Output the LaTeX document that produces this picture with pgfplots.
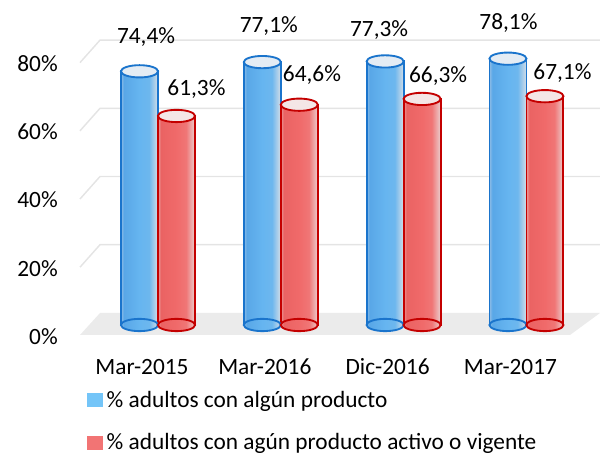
\documentclass[border=0pt]{standalone}
\usepackage{fontspec}
\setmainfont{Carlito}
\usepackage{pgfplots}
\usepackage{pgfplotstable}
\pgfplotsset{compat=1.18}

\definecolor{edgeblue}{HTML}{1A74CC}
\definecolor{edgered}{HTML}{C40000}
\definecolor{bA}{HTML}{8DBCE6}
\definecolor{bB}{HTML}{59A7E7}
\definecolor{bC}{HTML}{66B5F0}
\definecolor{bD}{HTML}{6DB7EE}
\definecolor{bE}{HTML}{D5DEE7}
\definecolor{rA}{HTML}{EB9A9A}
\definecolor{rB}{HTML}{EA6363}
\definecolor{rC}{HTML}{F06A6A}
\definecolor{rD}{HTML}{F07676}
\definecolor{rE}{HTML}{EBCFCF}
\definecolor{topblue}{HTML}{E4ECF4}
\definecolor{topred}{HTML}{F4E6E6}
\definecolor{floorgray}{HTML}{EBEBEB}
\definecolor{gridgray}{HTML}{E4E4E4}
\definecolor{legblue}{HTML}{74C5F8}
\definecolor{legred}{HTML}{F27474}

\pgfdeclarehorizontalshading{cylblue}{100bp}{color(0bp)=(bA); color(25bp)=(bA); color(29bp)=(bB); color(50bp)=(bC); color(63bp)=(bD); color(75bp)=(bE); color(100bp)=(bE)}
\pgfdeclarehorizontalshading{cylred}{100bp}{color(0bp)=(rA); color(25bp)=(rA); color(29bp)=(rB); color(50bp)=(rC); color(63bp)=(rD); color(75bp)=(rE); color(100bp)=(rE)}

\pgfdeclareplotmark{topB}{\filldraw[fill=topblue,draw=edgeblue,line width=1.4pt] (0pt,0pt) ellipse (13.9pt and 4.6pt);}
\pgfdeclareplotmark{baseB}{\shade[shading=cylblue,draw=edgeblue,line width=1.4pt] (0pt,0pt) ellipse (13.9pt and 4.6pt);}
\pgfdeclareplotmark{topR}{\filldraw[fill=topred,draw=edgered,line width=1.4pt] (0pt,0pt) ellipse (13.9pt and 4.6pt);}
\pgfdeclareplotmark{baseR}{\shade[shading=cylred,draw=edgered,line width=1.4pt] (0pt,0pt) ellipse (13.9pt and 4.6pt);}

% dx, dy: label offset from the top of its cylinder, in pixels of the reference
\pgfplotstableread{
x y dx dy
0 74.4 6.5 34
1 77.1 6.5 35.7
2 77.3 -6 31
3 78.1 0.5 36
}\bluedata
\pgfplotstableread{
x y dx dy
0 61.3 20 26.7
1 64.6 12.7 30
2 66.3 16 23
3 67.1 17.5 23
}\reddata

\newcommand{\fs}{\fontsize{17.5}{21}\selectfont}

\pgfplotsset{
  cylbar/.style n args={3}{ybar, bar width=0.301, bar shift=#1, shade, shading=#2,
    draw=#3, line width=1.4pt, forget plot},
  vallabel/.style={only marks, mark=none, forget plot,
    point meta=explicit,
    nodes near coords={\pgfmathprintnumber[fixed,fixed zerofill,precision=1,use comma]{\pgfplotspointmeta}\%},
    every node near coord/.append style={font=\fs, text=black, anchor=center, inner sep=0pt}},
}

\begin{document}
\begin{tikzpicture}[font=\fs]
\useasboundingbox (0,0) rectangle (450pt,339.75pt);
\begin{axis}[
  at={(60pt,85.77pt)}, anchor=south west,
  scale only axis, width=390pt, height=214.83pt,
  xmin=-0.635, xmax=3.599, ymin=-4, ymax=80,
  clip=false,
  axis line style={draw=none},
  tick style={draw=none},
  major tick length=0pt,
  xtick={0,1,2,3}, xticklabels={Mar-2015,Mar-2016,Dic-2016,Mar-2017},
  ytick={0,20,40,60,80}, yticklabels={0\%,20\%,40\%,60\%,80\%},
  tick label style={font=\fs},
  xticklabel style={anchor=center, inner sep=0pt, xshift=-12pt, yshift=-21.3pt},
  yticklabel style={anchor=east, inner sep=0pt, xshift=-16.5pt, yshift=-8.6pt},
  /pgf/number format/assume math mode=true,
  legend cell align=left,
  legend style={at={(0.0128,-0.1815)}, anchor=north west, draw=none, fill=none,
    inner sep=0pt, font=\fs, /tikz/row sep=18.5pt, /tikz/column sep=3.2pt,
    nodes={inner sep=0pt, anchor=west}},
]
% floor
\addplot[fill=floorgray, draw=none, forget plot] coordinates {(-0.635,-2.93) (3.355,-2.93) (3.599,3.52) (-0.472,3.52)};
% gridlines
\addplot[gridgray, line width=1.1pt, forget plot] coordinates {(-0.635,16.95) (-0.472,23.55) (3.599,23.55)};
\addplot[gridgray, line width=1.1pt, forget plot] coordinates {(-0.635,36.95) (-0.472,43.55) (3.599,43.55)};
\addplot[gridgray, line width=1.1pt, forget plot] coordinates {(-0.635,56.95) (-0.472,63.55) (3.599,63.55)};
\addplot[gridgray, line width=1.1pt, forget plot] coordinates {(-0.635,76.95) (-0.472,83.55) (3.599,83.55)};

% blue cylinders (one bar per plot so that each is shaded on its own)
\pgfplotsinvokeforeach{0,1,2,3}{
  \addplot[cylbar={-0.1505}{cylblue}{edgeblue}, restrict x to domain=#1:#1]
    table[x=x, y=y] {\bluedata};
}
\addplot[only marks, mark=baseB, forget plot] table[x expr=\thisrow{x}-0.1505, y expr=0] {\bluedata};
\addplot[only marks, mark=topB, forget plot] table[x expr=\thisrow{x}-0.1505, y=y] {\bluedata};

% red cylinders
\pgfplotsinvokeforeach{0,1,2,3}{
  \addplot[cylbar={0.1505}{cylred}{edgered}, restrict x to domain=#1:#1]
    table[x=x, y=y] {\reddata};
}
\addplot[only marks, mark=baseR, forget plot] table[x expr=\thisrow{x}+0.1505, y expr=0] {\reddata};
\addplot[only marks, mark=topR, forget plot] table[x expr=\thisrow{x}+0.1505, y=y] {\reddata};

% value labels
\addplot[vallabel] table[x expr=\thisrow{x}-0.1505+\thisrow{dx}/122.8,
  y expr=\thisrow{y}+\thisrow{dy}/3.41, meta=y] {\bluedata};
\addplot[vallabel] table[x expr=\thisrow{x}+0.1505+\thisrow{dx}/122.8,
  y expr=\thisrow{y}+\thisrow{dy}/3.41, meta=y] {\reddata};

\addlegendimage{legend image code/.code={\fill[legblue] (0pt,-4.9pt) rectangle (11.25pt,4.9pt);}}
\addlegendentry{\% adultos con algún producto}
\addlegendimage{legend image code/.code={\fill[legred] (0pt,-4.9pt) rectangle (11.25pt,4.9pt);}}
\addlegendentry{\% adultos con agún producto activo o vigente}
\end{axis}
\end{tikzpicture}
\end{document}
